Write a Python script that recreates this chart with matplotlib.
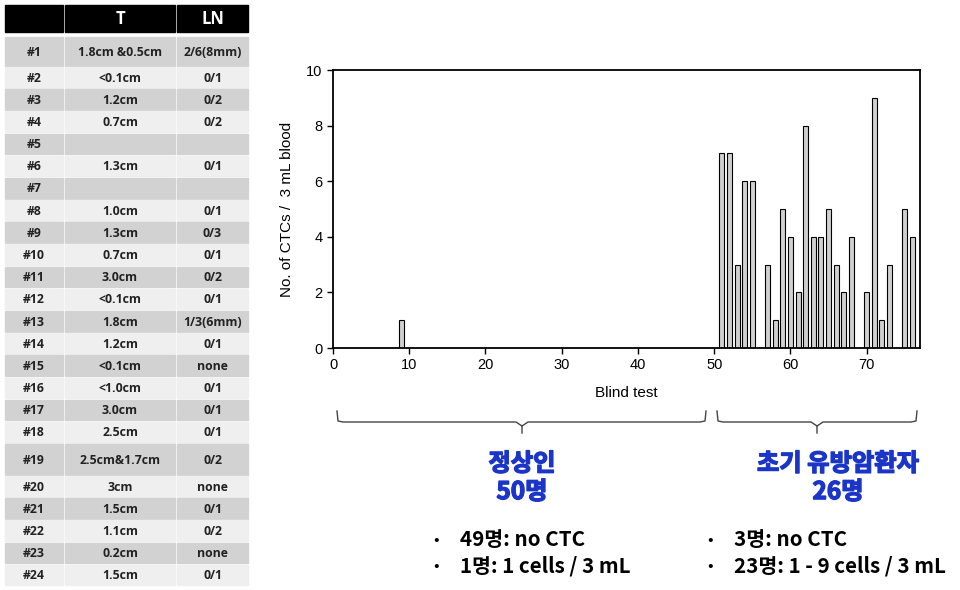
import matplotlib
matplotlib.use('Agg')
import matplotlib.pyplot as plt
import matplotlib.patheffects as pe
from matplotlib.patches import Rectangle

# table data
case_ids = ['#%d' % i for i in range(1, 25)]
tumor = ['1.8cm &0.5cm', '<0.1cm', '1.2cm', '0.7cm', '', '1.3cm', '', '1.0cm', '1.3cm',
         '0.7cm', '3.0cm', '<0.1cm', '1.8cm', '1.2cm', '<0.1cm', '<1.0cm', '3.0cm',
         '2.5cm', '2.5cm&1.7cm', '3cm', '1.5cm', '1.1cm', '0.2cm', '1.5cm']
lymph = ['2/6(8mm)', '0/1', '0/2', '0/2', '', '0/1', '', '0/1', '0/3', '0/1', '0/2',
         '0/1', '1/3(6mm)', '0/1', 'none', '0/1', '0/1', '0/1', '0/2', 'none', '0/1',
         '0/2', 'none', '0/1']

# blind test CTC counts, samples 1..76
healthy_ctc = [0] * 50
healthy_ctc[8] = 1
patient_ctc = [7, 7, 3, 6, 6, 0, 3, 1, 5, 4, 2, 8, 4, 4, 5, 3, 2, 4, 0, 2, 9, 1, 3, 0, 5, 4]
ctc = healthy_ctc + patient_ctc
samples = list(range(1, len(ctc) + 1))

kr = ['Noto Sans CJK KR', 'DejaVu Sans']
blue = '#1a35c8'

fig = plt.figure(figsize=(9.6, 5.9), dpi=100)

# pixel overlay for table, braces and notes
ov = fig.add_axes([0, 0, 1, 1])
ov.set_xlim(0, 960)
ov.set_ylim(590, 0)
ov.axis('off')

cols = [(5, 63), (65, 175), (177, 248)]
ov.add_patch(Rectangle((cols[0][0], 5), cols[0][1] - cols[0][0], 27, color='black'))
for (a, b), t in zip(cols[1:], ['T', 'LN']):
    ov.add_patch(Rectangle((a, 5), b - a, 27, color='black'))
    ov.text((a + b) / 2, 19, t, color='white', fontsize=12, fontweight='bold',
            ha='center', va='center', family='Open Sans')

y = 37
for i in range(24):
    h = 30 if i == 0 else (32 if i == 18 else 22.18)
    fc = '#d2d2d2' if i % 2 == 0 else '#efefef'
    for (a, b), txt in zip(cols, [case_ids[i], tumor[i], lymph[i]]):
        ov.add_patch(Rectangle((a, y), b - a, h - 1.5, color=fc))
        ov.text((a + b) / 2, y + h / 2, txt, fontsize=8.8, fontweight='bold',
                ha='center', va='center', family='Open Sans', color='#222222')
    y += h


def brace(x0, x1, xm, ytop=411, yline=422, ytip=433):
    ov.plot([x0, x0 + 1, x0 + 6, xm - 6, xm, xm], [ytop, yline - 1, yline, yline, yline + 4, ytip],
            color='#444444', lw=1)
    ov.plot([x1, x1 - 1, x1 - 6, xm + 6, xm], [ytop, yline - 1, yline, yline, yline + 4],
            color='#444444', lw=1)


brace(337, 706, 522)
brace(717, 917, 817)

thick = [pe.withStroke(linewidth=1.0, foreground=blue)]
ov.text(522, 478, '정상인\n50명', color=blue, fontsize=17.5, fontweight='bold',
        ha='center', va='center', family=kr, linespacing=1.22, path_effects=thick)
ov.text(838, 478, '초기 유방암환자\n26명', color=blue, fontsize=17.5, fontweight='bold',
        ha='center', va='center', family=kr, linespacing=1.22, path_effects=thick)

notes_left = ['49명: no CTC', '1명: 1 cells / 3 mL']
notes_right = ['3명: no CTC', '23명: 1 - 9 cells / 3 mL']
for k, (l, r) in enumerate(zip(notes_left, notes_right)):
    yy = 540 + 26 * k
    ov.text(436, yy, '•', fontsize=12, ha='center', va='center', family=kr)
    ov.text(460, yy, l, fontsize=14.8, fontweight='bold', ha='left', va='center', family=kr)
    ov.text(710, yy, '•', fontsize=12, ha='center', va='center', family=kr)
    ov.text(734, yy, r, fontsize=14.8, fontweight='bold', ha='left', va='center', family=kr)

# bar chart
ax = fig.add_axes([333 / 960, 1 - 348 / 590, 587 / 960, 278 / 590])
ax.bar(samples, ctc, width=0.65, color='#d0d0d0', edgecolor='black', linewidth=0.8)
ax.set_xlim(0, 77)
ax.set_ylim(0, 10)
ax.set_xticks(range(0, 80, 10))
ax.set_yticks(range(0, 11, 2))
for s in ax.spines.values():
    s.set_linewidth(1.3)
ax.tick_params(direction='out', length=4, width=1, labelsize=10.5)
for lab in ax.get_xticklabels() + ax.get_yticklabels():
    lab.set_family('Liberation Sans')
ax.set_xlabel('Blind test', fontsize=11, family='Liberation Sans', labelpad=10)
ax.set_ylabel('No. of CTCs /  3 mL blood', fontsize=11, family='Liberation Sans', labelpad=9)

fig.savefig('out.png', dpi=100)
